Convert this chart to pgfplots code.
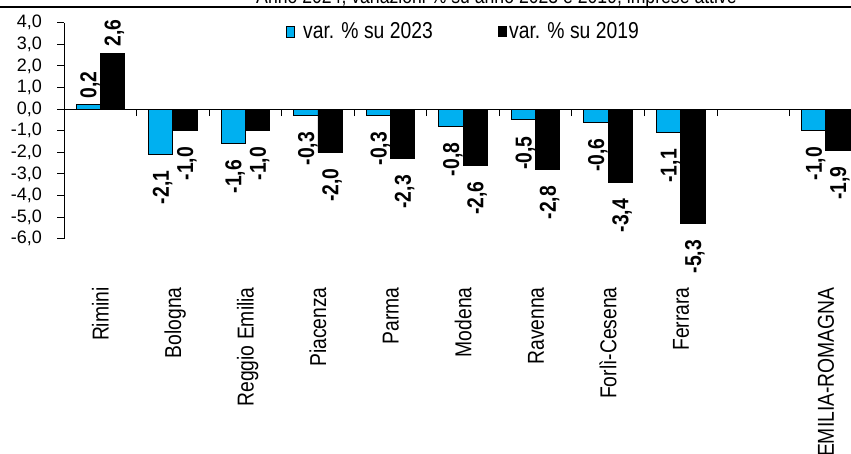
\documentclass[border=0pt]{standalone}
\usepackage{pgfplots}
\pgfplotsset{compat=1.18}
\usepackage{pgfplotstable}
\usepackage{fontspec}
\setmainfont{Liberation Sans}
\newfontfamily\narrow[FakeStretch=0.84]{Liberation Sans}
\definecolor{cblue}{HTML}{00B0F0}

% var. % su 2023
\pgfplotstableread{
x y
0 0.2
}\tApos
\pgfplotstableread{
x y
1 -2.1
2 -1.6
3 -0.3
4 -0.3
5 -0.8
6 -0.5
7 -0.6
8 -1.1
10 -1.0
}\tAneg
% var. % su 2019
\pgfplotstableread{
x y
0 2.6
}\tBpos
\pgfplotstableread{
x y
1 -1.0
2 -1.0
3 -2.0
4 -2.3
5 -2.6
6 -2.8
7 -3.4
8 -5.3
10 -1.9
}\tBneg

\tikzset{
  lblbase/.style={font=\narrow\bfseries\fontsize{23}{23}\selectfont, text=black, inner sep=0pt, text height=16.5pt, text depth=0pt, rotate=90},
}
\pgfplotsset{
  lblfmt/.style={nodes near coords={\pgfmathprintnumber[fixed,fixed zerofill,precision=1,use comma,assume math mode=true]{\pgfplotspointmeta}}},
  poslbl/.style={lblfmt, every node near coord/.append style={lblbase, anchor=west, xshift=6pt}},
  neglbl/.style={lblfmt, every node near coord/.append style={lblbase, anchor=east, xshift=-16pt}},
}

\begin{document}
\begin{tikzpicture}
\useasboundingbox (0pt,0pt) rectangle (851pt,454pt);
\begin{axis}[
  at={(64pt,215.3pt)}, anchor=south west,
  scale only axis, width=798pt, height=216pt,
  xmin=-0.5, xmax=10.5, ymin=-6, ymax=4,
  axis y line*=left, axis x line*=middle,
  hide obscured x ticks=false, hide obscured y ticks=false,
  clip=false,
  ybar, bar width=24.3pt,
  tick align=outside,
  major tick length=7pt, minor tick length=7pt,
  xtick={0,...,10},
  xticklabels={Rimini,Bologna,Reggio Emilia,Piacenza,Parma,Modena,Ravenna,Forlì-Cesena,Ferrara,{},EMILIA-ROMAGNA},
  minor xtick={0.5,1.5,...,9.5},
  major x tick style={draw=none},
  x tick style={black, line width=0.8pt},
  y tick style={black, line width=0.8pt},
  axis line style={black, line width=0.8pt},
  xticklabel shift=171pt,
  xticklabel style={rotate=90, anchor=east, inner sep=0pt, text height=16.5pt, text depth=0pt, font=\narrow\fontsize{23}{23}\selectfont},
  ytick={-6,...,4},
  yticklabel style={font=\fontsize{18}{18}\selectfont, inner sep=0pt, xshift=-15pt,
    /pgf/number format/.cd, fixed, fixed zerofill, precision=1, use comma, assume math mode=true},
]
\addplot[fill=cblue, draw=black, line width=0.8pt, bar shift=-12.15pt, poslbl] table[x=x,y=y] {\tApos};
\addplot[fill=cblue, draw=black, line width=0.8pt, bar shift=-12.15pt, neglbl] table[x=x,y=y] {\tAneg};
\addplot[fill=black, draw=black, line width=0.8pt, bar shift=12.15pt, poslbl] table[x=x,y=y] {\tBpos};
\addplot[fill=black, draw=black, line width=0.8pt, bar shift=12.15pt, neglbl] table[x=x,y=y] {\tBneg};
\end{axis}
% title (partly cut off at the top) and rule
\node[anchor=base, inner sep=0pt, font=\narrow\fontsize{21}{21}\selectfont] at (496.5pt,450.5pt) {Anno 2024, variazioni \% su anno 2023 e 2019, imprese attive};
\draw[line width=2pt] (0pt,447pt) -- (851pt,447pt);
% legend
\filldraw[fill=cblue, draw=black, line width=0.8pt] (286pt,417pt) rectangle (294pt,428pt);
\node[anchor=base west, inner sep=0pt, font=\narrow\fontsize{23}{23}\selectfont] at (303pt,415pt) {var. \% su 2023};
\fill[black] (498pt,417pt) rectangle (507pt,428pt);
\node[anchor=base west, inner sep=0pt, font=\narrow\fontsize{23}{23}\selectfont] at (509pt,415pt) {var. \% su 2019};
\end{tikzpicture}
\end{document}
